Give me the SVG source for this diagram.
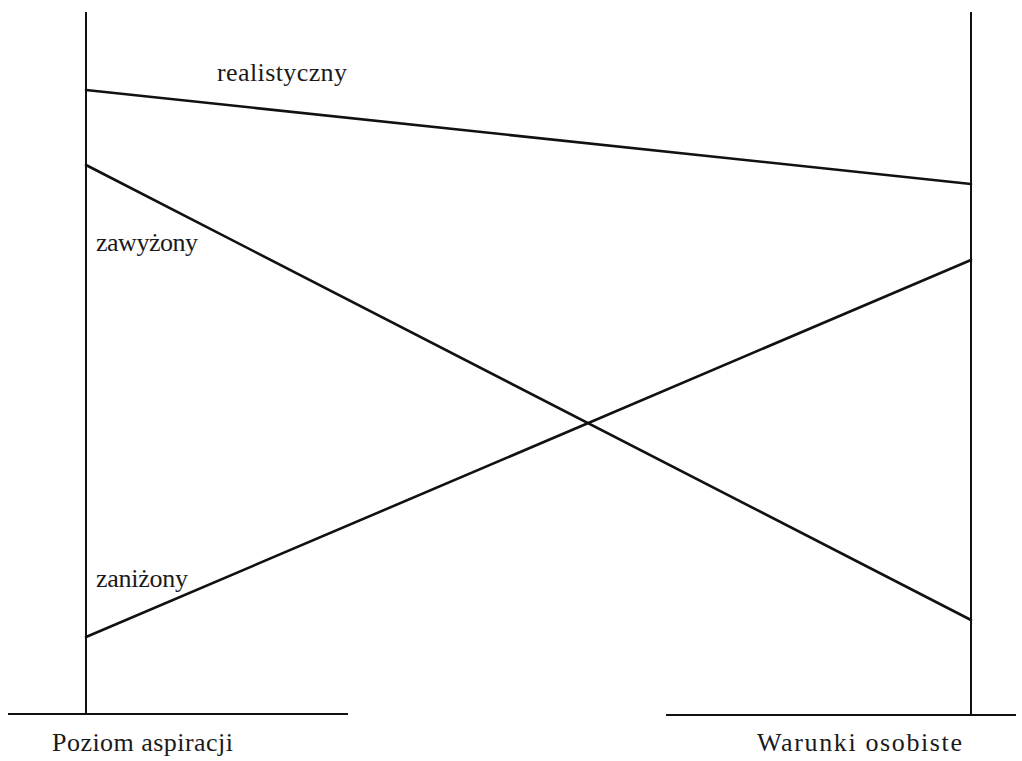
<svg xmlns="http://www.w3.org/2000/svg" width="1022" height="761" viewBox="0 0 1022 761">
<style>
.ax{stroke:#111;stroke-width:2;fill:none}
.ln{stroke:#111;stroke-width:2.6;fill:none;stroke-linecap:round}
.lb{font-family:"Liberation Serif","Times New Roman",serif;font-size:26px;fill:#1a1a1a}
</style>
<rect width="1022" height="761" fill="#fff"/>
<g id="axes">
<line class="ax" x1="86" y1="12" x2="86" y2="714"/>
<line class="ax" x1="971" y1="12" x2="971" y2="715"/>
<line class="ax" x1="8" y1="714" x2="348" y2="714"/>
<line class="ax" x1="666" y1="715" x2="1016" y2="715"/>
</g>
<g id="connectors">
<line class="ln" x1="86" y1="90" x2="971" y2="184"/>
<line class="ln" x1="86" y1="165" x2="971" y2="620"/>
<line class="ln" x1="86" y1="637" x2="971" y2="260"/>
</g>
<g id="labels">
<text class="lb" x="217" y="81" textLength="130" lengthAdjust="spacing">realistyczny</text>
<text class="lb" x="96" y="251" textLength="102" lengthAdjust="spacing">zawyżony</text>
<text class="lb" x="96" y="587" textLength="92" lengthAdjust="spacing">zaniżony</text>
<text class="lb" x="52" y="751" textLength="181" lengthAdjust="spacing">Poziom aspiracji</text>
<text class="lb" x="757" y="751" textLength="205" lengthAdjust="spacing">Warunki osobiste</text>
</g>
</svg>
